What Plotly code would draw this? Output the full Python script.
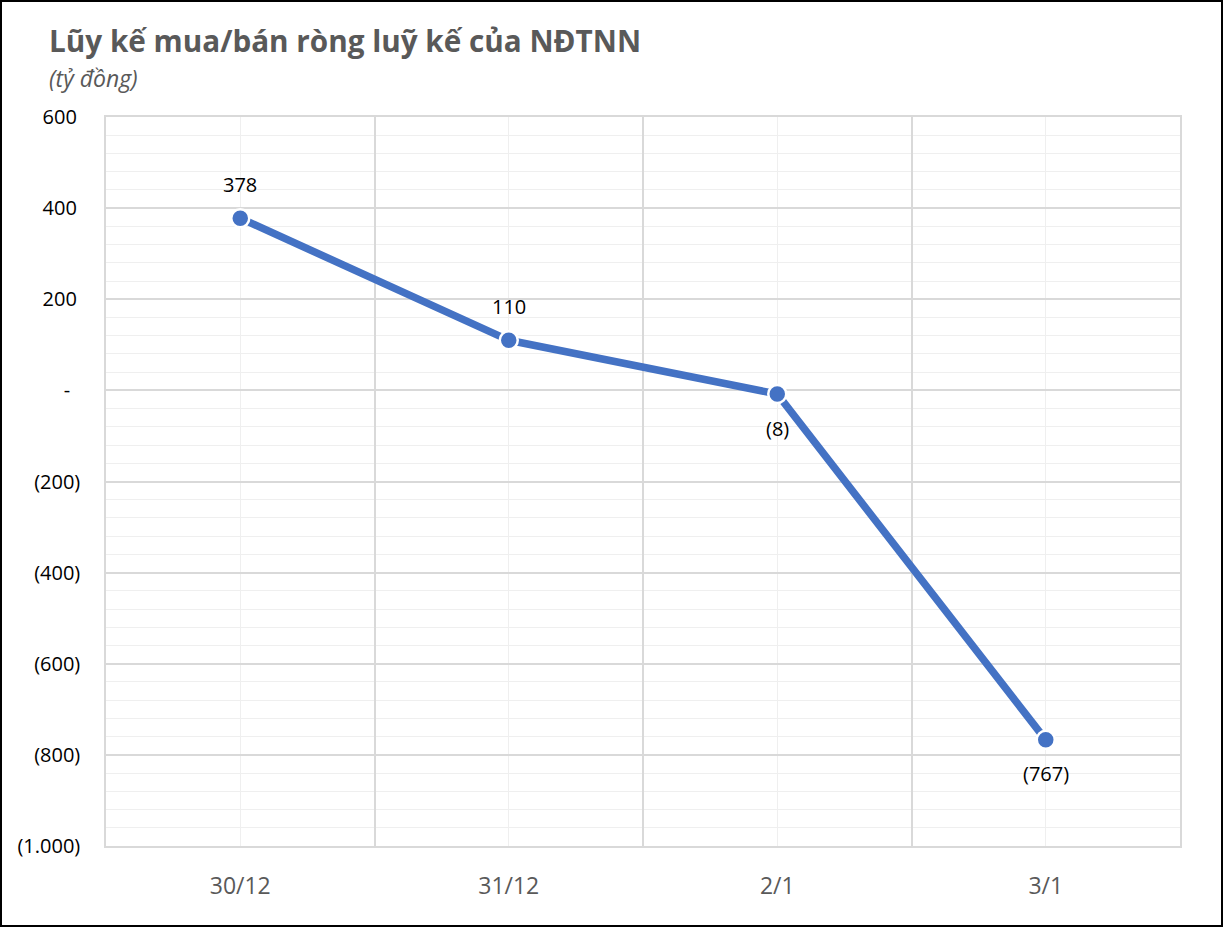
import plotly.graph_objects as go

categories = ["30/12", "31/12", "2/1", "3/1"]
values = [378, 110, -8, -767]
labels = ["378", "110", "(8)", "(767)"]
label_side = [1, 1, -1, -1]  # 1 = above point, -1 = below
ytick_vals = [600, 400, 200, 0, -200, -400, -600, -800, -1000]
ytick_text = ["600\u2009", "400\u2009", "200\u2009", "-\u2009\u2009\u2009", "(200)", "(400)", "(600)", "(800)", "(1.000)"]

W, H = 1224, 928
L, R, T, B = 106, 1180, 117, 846
FONT = "Open Sans, Lato, sans-serif"

def px(x):
    return (x - L) / (R - L)

def py(y):
    return (B - y) / (B - T)

xs = list(range(len(categories)))

fig = go.Figure()
fig.add_trace(go.Scatter(
    x=xs, y=values, mode="lines+markers",
    line=dict(color="#4472C4", width=7.5),
    marker=dict(size=18, color="#4472C4", line=dict(color="white", width=2.5)),
    cliponaxis=False, showlegend=False, hoverinfo="skip",
))
fig.add_trace(go.Scatter(x=[-0.5, 3.5], y=[0, 0], xaxis="x2", mode="markers",
                         marker=dict(opacity=0), showlegend=False, hoverinfo="skip"))

annotations = [
    dict(x=xi, y=v, text=t, xref="x", yref="y", showarrow=False,
         yshift=34 * s, xanchor="center", yanchor="middle",
         font=dict(family=FONT, size=20, color="#000000"))
    for xi, v, t, s in zip(xs, values, labels, label_side)
]
annotations += [
    dict(text="<b>Lũy kế mua/bán ròng luỹ kế của NĐTNN</b>", xref="paper", yref="paper",
         x=px(47), y=py(40), xanchor="left", yanchor="middle", showarrow=False,
         font=dict(family=FONT, size=29.7, color="#595959")),
    dict(text="<i>(tỷ đồng)</i>", xref="paper", yref="paper",
         x=px(47), y=py(78), xanchor="left", yanchor="middle", showarrow=False,
         font=dict(family=FONT, size=23, color="#595959")),
]

fig.update_layout(
    width=W, height=H,
    margin=dict(l=L, r=W - R, t=T, b=H - B),
    paper_bgcolor="white", plot_bgcolor="white",
    font=dict(family=FONT),
    xaxis=dict(
        range=[-0.5, 3.5], tickvals=xs, ticktext=categories,
        showgrid=True, gridcolor="#efefef", gridwidth=1,
        zeroline=False, ticks="", showline=True, mirror=True,
        linecolor="#d9d9d9", linewidth=1.5,
        tickfont=dict(family=FONT, size=23, color="#595959"), ticklabelstandoff=19,
    ),
    xaxis2=dict(
        range=[-0.5, 3.5], overlaying="x", tickvals=[0.5, 1.5, 2.5],
        showticklabels=False, showgrid=True, gridcolor="#d9d9d9", gridwidth=1.5,
        zeroline=False, ticks="", side="bottom",
    ),
    yaxis=dict(
        range=[-1000, 600], tickvals=ytick_vals, ticktext=ytick_text,
        showgrid=True, gridcolor="#d9d9d9", gridwidth=1.5,
        minor=dict(dtick=40, tick0=0, showgrid=True, gridcolor="#efefef", gridwidth=1),
        zeroline=False, ticks="", showline=True, mirror=True,
        linecolor="#d9d9d9", linewidth=1.5,
        tickfont=dict(family=FONT, size=20, color="#000000"), ticklabelstandoff=20,
    ),
    annotations=annotations,
    shapes=[
        dict(type="rect", xref="paper", yref="paper",
             x0=px(1), x1=px(1222), y0=py(926), y1=py(1),
             line=dict(color="#000000", width=2), fillcolor="rgba(0,0,0,0)", layer="above"),
    ],
)

fig.write_html("out.html", config={"displayModeBar": False},
               post_script="document.body.style.margin='0';document.body.style.overflow='hidden';")
